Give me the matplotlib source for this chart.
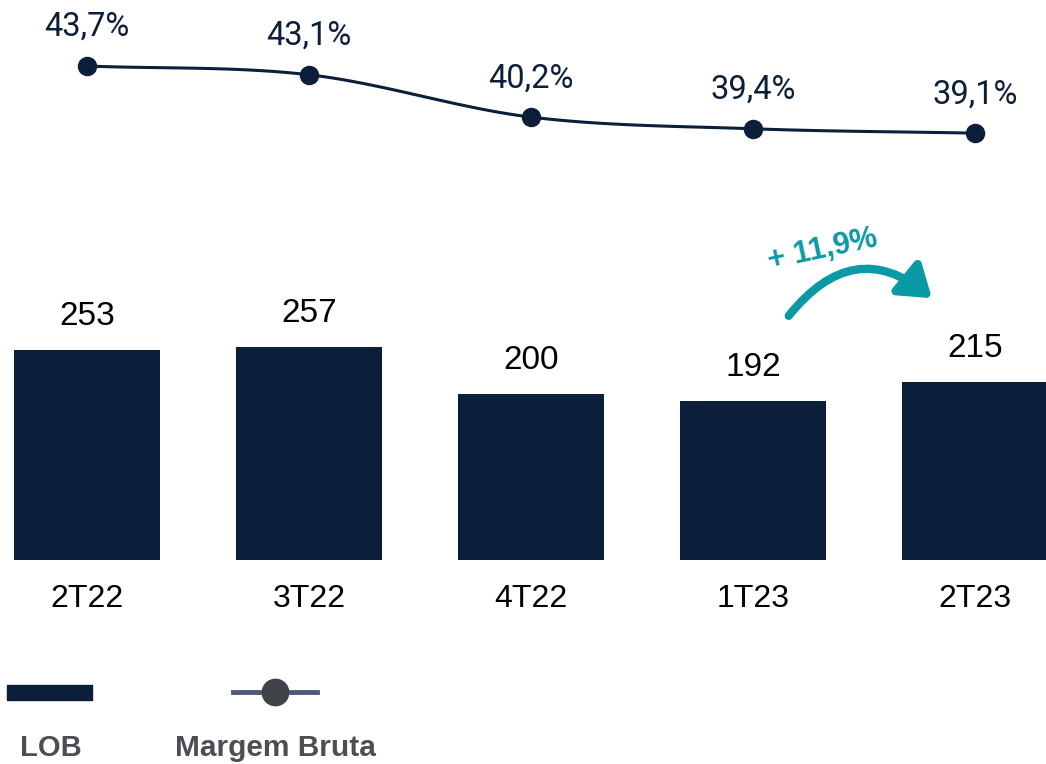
import numpy as np
import matplotlib.pyplot as plt
from matplotlib.patches import Rectangle, FancyArrowPatch
from matplotlib.lines import Line2D

periods = ["2T22", "3T22", "4T22", "1T23", "2T23"]
lob = [253, 257, 200, 192, 215]
margem = [43.7, 43.1, 40.2, 39.4, 39.1]
margem_labels = ["43,7%", "43,1%", "40,2%", "39,4%", "39,1%"]
growth_label = "+ 11,9%"

navy = "#0b1e3a"
teal = "#0a9aa6"
gray_txt = "#4b4e53"

fig = plt.figure(figsize=(10.46, 7.64), dpi=100)
ax = fig.add_axes([0, 0, 1, 1])
x = np.arange(len(periods))

# pixel layout of the reference: first bar centre at 87 px, step 222 px
step = 222.0
ax.set_xlim(-87 / step, (1046 - 87) / step)
ax.set_ylim(-204 / 0.83, (764 - 204) / 0.83)
ax.axis("off")

ax.bar(x, lob, width=146 / step, color=navy)
for xi, v in zip(x, lob):
    ax.annotate(str(v), (xi, v), xytext=(0, 24), textcoords="offset points",
                ha="center", va="center", fontsize=24, family="Liberation Sans",
                color="black")
for xi, p in zip(x, periods):
    ax.annotate(p, (xi, 0), xytext=(0, -28), textcoords="offset points",
                ha="center", va="center", fontsize=23, family="Liberation Sans",
                color="black")

# margin line on its own scale
ax2 = ax.twinx()
ax2.set_position([0, 0, 1, 1])
ax2.set_xlim(ax.get_xlim())
ax2.set_ylim(43.7 - 698 / 14.6, 43.7 + 66 / 14.6)
ax2.axis("off")

# smooth curve through the points (cubic hermite, averaged secants)
m = np.array(margem)
sec = np.diff(m)
tang = np.zeros_like(m)
tang[1:-1] = (sec[:-1] + sec[1:]) / 2
tang[0] = sec[0]
tang[-1] = sec[-1]
xs, ys = [], []
for i in range(len(m) - 1):
    t = np.linspace(0, 1, 30)
    h00 = 2 * t**3 - 3 * t**2 + 1
    h10 = t**3 - 2 * t**2 + t
    h01 = -2 * t**3 + 3 * t**2
    h11 = t**3 - t**2
    xs.append(i + t)
    ys.append(h00 * m[i] + h10 * tang[i] + h01 * m[i + 1] + h11 * tang[i + 1])
ax2.plot(np.concatenate(xs), np.concatenate(ys), color=navy, lw=2.2)
ax2.plot(x, margem, "o", color=navy, ms=13)
for xi, v, lab in zip(x, margem, margem_labels):
    ax2.annotate(lab, (xi, v), xytext=(0, 28), textcoords="offset points",
                 ha="center", va="center", fontsize=23.5, family="Roboto",
                 color=navy)

# growth arrow
arr = FancyArrowPatch((787, 446), (934, 464), transform=None,
                      connectionstyle="angle3,angleA=52,angleB=140",
                      arrowstyle="-|>,head_length=0.65,head_width=0.45",
                      mutation_scale=28, lw=6, color=teal)
fig.patches.append(arr)
fig.text(823, 514, growth_label, transform=None, ha="center", va="center",
         rotation=12, fontsize=22, fontweight="bold", family="Liberation Sans",
         color=teal)

# legend
fig.patches.append(Rectangle((7, 64), 85, 15, transform=None, color=navy))
fig.lines.append(Line2D([233, 317], [72, 72], transform=None, color="#4a5a78", lw=3.5))
fig.lines.append(Line2D([275], [72], transform=None, marker="o", ms=19,
                        color="#404348", lw=0))
fig.text(51, 16, "LOB", transform=None, ha="center", va="center", fontsize=21,
         fontweight="bold", family="Liberation Sans", color=gray_txt)
fig.text(275, 16, "Margem Bruta", transform=None, ha="center", va="center",
         fontsize=21.5, fontweight="bold", family="Liberation Sans", color=gray_txt)

fig.savefig("out.png", dpi=100)
